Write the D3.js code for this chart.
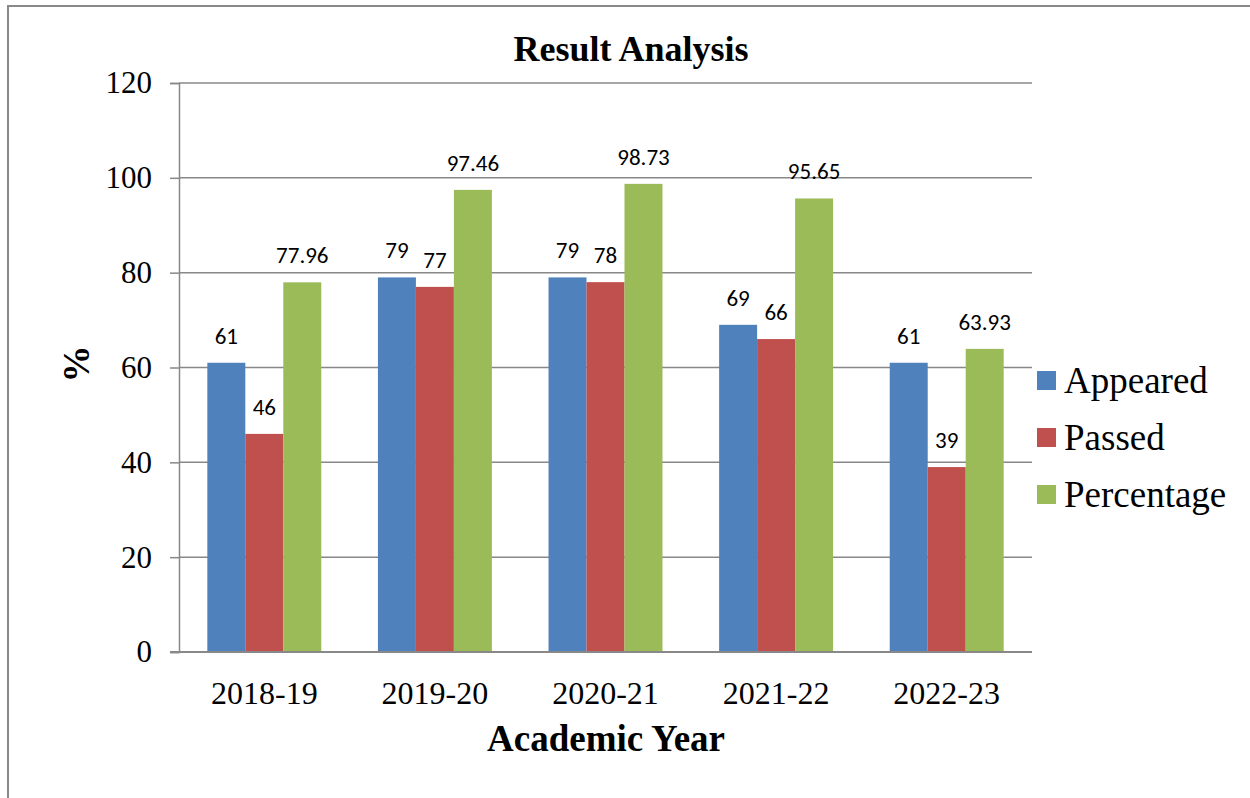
<!DOCTYPE html>
<html><head><meta charset="utf-8">
<script src="https://cdn.jsdelivr.net/npm/d3@7"></script>
<style>body{margin:0;background:#fff;}svg{display:block;}</style>
</head><body>
<svg id="c" width="1250" height="798"></svg>
<script>
const categories = ["2018-19","2019-20","2020-21","2021-22","2022-23"];
const seriesNames = ["Appeared","Passed","Percentage"];
const appeared = [61,79,79,69,61];
const passed = [46,77,78,66,39];
const percentage = [77.96,97.46,98.73,95.65,63.93];
const labelText = [
  ["61","79","79","69","61"],
  ["46","77","78","66","39"],
  ["77.96","97.46","98.73","95.65","63.93"]
];
const yTicks = [0,20,40,60,80,100,120];
const colors = ["#4f81bd","#c0504d","#9bbb59"];
const series = [appeared, passed, percentage];

const svg = d3.select("#c");
const serif = "'Liberation Serif','Times New Roman',serif";
const sans = "Carlito,Lato,'Open Sans',sans-serif";

svg.append("rect").attr("x",8).attr("y",6).attr("width",1260).attr("height",820)
  .attr("fill","none").attr("stroke","#898989").attr("stroke-width",2);

const L=179, R=1032, T=83, B=652;
const x = d3.scaleBand().domain(categories).range([L,R]).paddingInner(0.332).paddingOuter(0.166);
const xs = d3.scaleBand().domain(seriesNames).range([0,x.bandwidth()]);
const y = d3.scaleLinear().domain([0,120]).range([B,T]);

// grid
svg.append("g").selectAll("line").data(yTicks.filter(d=>d>0)).join("line")
  .attr("x1",L).attr("x2",R).attr("y1",d=>y(d)).attr("y2",d=>y(d))
  .attr("stroke","#888").attr("stroke-width",1.5);

// y axis
const ya = svg.append("g").attr("transform",`translate(${L},0)`)
  .call(d3.axisLeft(y).tickValues(yTicks).tickSize(9).tickPadding(18));
ya.select(".domain").attr("stroke","#888").attr("stroke-width",1.5);
ya.selectAll(".tick line").attr("stroke","#888").attr("stroke-width",1.5);
ya.selectAll("text").attr("font-family",serif).attr("font-size",31).attr("fill","#000");

// bars
series.forEach((vals,si)=>{
  const g = svg.append("g");
  g.selectAll("rect").data(vals).join("rect")
    .attr("x",(d,i)=>x(categories[i])+xs(seriesNames[si]))
    .attr("y",d=>y(d)).attr("width",xs.bandwidth()).attr("height",d=>B-y(d))
    .attr("fill",colors[si]);
  g.selectAll("text").data(vals).join("text")
    .attr("x",(d,i)=>x(categories[i])+xs(seriesNames[si])+xs.bandwidth()/2)
    .attr("y",d=>y(d)-19)
    .attr("text-anchor","middle").attr("font-family",sans).attr("font-size",23).attr("fill","#000")
    .text((d,i)=>labelText[si][i]);
});

// x axis
const xa = svg.append("g").attr("transform",`translate(0,${B})`)
  .call(d3.axisBottom(x).tickSize(0).tickPadding(29));
xa.select(".domain").attr("stroke","#888").attr("stroke-width",2).attr("d",`M${L-9},0H${R}`);
xa.selectAll("text").attr("font-family",serif).attr("font-size",32).attr("fill","#000");

// titles
svg.append("text").attr("x",631).attr("y",61).attr("text-anchor","middle")
  .attr("font-family",serif).attr("font-weight","bold").attr("font-size",36).text("Result Analysis");
svg.append("text").attr("x",606).attr("y",751).attr("text-anchor","middle")
  .attr("font-family",serif).attr("font-weight","bold").attr("font-size",37).text("Academic Year");
svg.append("text").attr("transform","translate(89,364) rotate(-90)").attr("text-anchor","middle")
  .attr("font-family",serif).attr("font-weight","bold").attr("font-size",37).text("%");

// legend
const lg = svg.append("g");
seriesNames.forEach((n,i)=>{
  lg.append("rect").attr("x",1037).attr("y",371+i*57).attr("width",19).attr("height",19).attr("fill",colors[i]);
  lg.append("text").attr("x",1064).attr("y",393+i*57).attr("font-family",serif).attr("font-size",37).text(n);
});
</script>
</body></html>
